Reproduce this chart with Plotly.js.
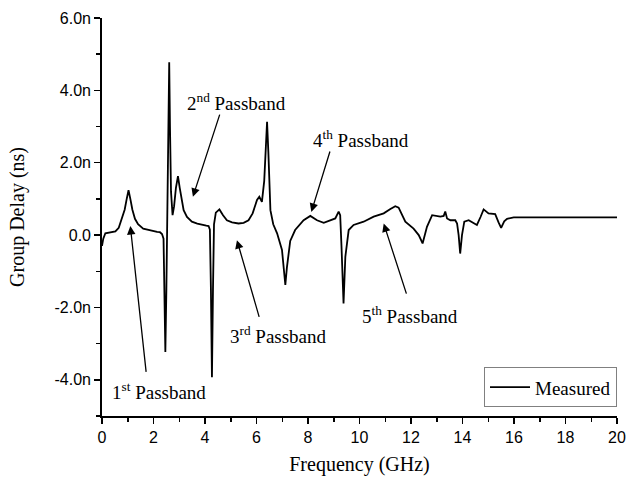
<!DOCTYPE html>
<html>
<head>
<meta charset="utf-8">
<script src="https://cdn.plot.ly/plotly-3.0.1.min.js"></script>
<style>html,body{margin:0;padding:0;background:#fff;}#chart{width:627px;height:478px;}</style>
</head>
<body>
<div id="chart"></div>
<script>
// Frequency (GHz)
const freq = [0, 0.05, 0.13, 0.3, 0.52, 0.65, 0.78, 0.88, 0.96, 1.03, 1.1, 1.18, 1.28, 1.4, 1.6, 1.9, 2.14, 2.25, 2.33, 2.39, 2.43, 2.46, 2.5, 2.55, 2.58, 2.61, 2.64, 2.68, 2.74, 2.8, 2.87, 2.95, 3.02, 3.1, 3.17, 3.3, 3.49, 3.7, 3.88, 4.05, 4.14, 4.19, 4.23, 4.27, 4.31, 4.35, 4.42, 4.56, 4.7, 4.85, 5.05, 5.3, 5.5, 5.69, 5.85, 6.02, 6.11, 6.21, 6.3, 6.36, 6.41, 6.46, 6.54, 6.65, 6.8, 6.99, 7.07, 7.12, 7.18, 7.31, 7.5, 7.83, 8.09, 8.35, 8.61, 8.93, 9.06, 9.19, 9.25, 9.3, 9.38, 9.45, 9.58, 9.77, 10.16, 10.55, 10.94, 11.2, 11.39, 11.52, 11.65, 11.78, 12.1, 12.3, 12.45, 12.62, 12.82, 13.14, 13.27, 13.33, 13.4, 13.53, 13.72, 13.79, 13.85, 13.91, 13.98, 14.07, 14.24, 14.56, 14.7, 14.82, 15.01, 15.27, 15.4, 15.5, 15.62, 15.73, 15.99, 17, 18, 19, 20];
// Group delay (ns)
const delay = [-0.3, -0.1, 0.05, 0.08, 0.1, 0.2, 0.45, 0.7, 1.0, 1.24, 1.0, 0.7, 0.45, 0.3, 0.18, 0.12, 0.09, 0.08, 0.03, -0.1, -1.5, -3.23, -1.5, 1.5, 3.5, 4.78, 3.0, 1.2, 0.55, 0.8, 1.3, 1.63, 1.3, 0.9, 0.69, 0.5, 0.37, 0.32, 0.28, 0.26, 0.25, 0.15, -1.5, -3.93, -1.5, 0.3, 0.62, 0.71, 0.55, 0.41, 0.35, 0.32, 0.34, 0.41, 0.6, 0.97, 1.06, 0.92, 1.5, 2.6, 3.13, 2.3, 0.69, 0.3, 0.05, -0.41, -1.0, -1.38, -0.9, -0.16, 0.14, 0.41, 0.53, 0.41, 0.34, 0.43, 0.46, 0.65, 0.55, -0.3, -1.89, -0.6, 0.14, 0.28, 0.37, 0.51, 0.6, 0.72, 0.8, 0.76, 0.55, 0.37, 0.18, 0.0, -0.23, 0.23, 0.55, 0.51, 0.53, 0.65, 0.46, 0.41, 0.41, 0.32, 0.0, -0.51, 0.0, 0.37, 0.41, 0.28, 0.5, 0.71, 0.6, 0.58, 0.35, 0.2, 0.38, 0.45, 0.49, 0.49, 0.49, 0.49, 0.49];

const xTickVals = [0, 2, 4, 6, 8, 10, 12, 14, 16, 18, 20];
const yTickVals = [-4, -2, 0, 2, 4, 6];
const yTickText = ['-4.0n', '-2.0n', '0.0', '2.0n', '4.0n', '6.0n'];

const passLabels = ['1<sup>st</sup> Passband', '2<sup>nd</sup> Passband', '3<sup>rd</sup> Passband', '4<sup>th</sup> Passband', '5<sup>th</sup> Passband'];
// label centres and arrow tail/tip (data coords)
const labelPos = [[2.22, -4.32], [5.21, 3.69], [6.85, -2.75], [10.04, 2.65], [11.95, -2.21]];
const arrowTail = [[1.72, -3.82], [4.59, 3.37], [6.12, -2.30], [8.87, 2.35], [11.84, -1.66]];
const arrowTip = [[1.10, 0.25], [3.53, 1.06], [5.24, -0.14], [8.13, 0.64], [10.94, 0.32]];

const serif = 'Liberation Serif, Times New Roman, serif';
const sans = 'Liberation Sans, Arial, sans-serif';

const annotations = [];
passLabels.forEach((t, i) => {
  annotations.push({x: labelPos[i][0], y: labelPos[i][1], xref: 'x', yref: 'y', text: t, showarrow: false,
    font: {family: serif, size: 19, color: '#000'}});
  annotations.push({x: arrowTip[i][0], y: arrowTip[i][1], ax: arrowTail[i][0], ay: arrowTail[i][1],
    xref: 'x', yref: 'y', axref: 'x', ayref: 'y', text: '', showarrow: true,
    arrowhead: 2, arrowsize: 1.3, arrowwidth: 1.3, arrowcolor: '#000'});
});

const trace = {x: freq, y: delay, type: 'scatter', mode: 'lines', name: 'Measured',
  line: {color: '#000', width: 1.8}};

const layout = {
  width: 627, height: 478,
  margin: {l: 102, r: 10, t: 18, b: 62},
  paper_bgcolor: '#fff', plot_bgcolor: '#fff',
  showlegend: true,
  legend: {x: 1, xanchor: 'right', y: 0.022, yanchor: 'bottom', bordercolor: '#808080', borderwidth: 1,
    bgcolor: '#fff', font: {family: serif, size: 19, color: '#000'}, itemwidth: 40},
  xaxis: {range: [0, 20], tickvals: xTickVals, ticks: 'outside', ticklen: 6, tickwidth: 1.5, tickcolor: '#000',
    showline: true, linecolor: '#000', linewidth: 1.8, showgrid: false, zeroline: false,
    tickfont: {family: sans, size: 16, color: '#000'},
    minor: {dtick: 1, tick0: 0, ticks: 'outside', ticklen: 4, tickwidth: 1.5, tickcolor: '#000', showgrid: false},
    title: {text: 'Frequency (GHz)', font: {family: serif, size: 20, color: '#000'}, standoff: 12}},
  yaxis: {range: [-5, 6], tickvals: yTickVals, ticktext: yTickText, ticks: 'outside', ticklen: 6, tickwidth: 1.5, tickcolor: '#000',
    showline: true, linecolor: '#000', linewidth: 1.8, showgrid: false, zeroline: false,
    tickfont: {family: sans, size: 16, color: '#000'},
    minor: {dtick: 1, tick0: 1, ticks: 'outside', ticklen: 4, tickwidth: 1.5, tickcolor: '#000', showgrid: false},
    title: {text: 'Group Delay (ns)', font: {family: serif, size: 20, color: '#000'}, standoff: 24}},
  annotations: annotations
};

Plotly.newPlot('chart', [trace], layout, {displayModeBar: false, staticPlot: true});
</script>
</body>
</html>
